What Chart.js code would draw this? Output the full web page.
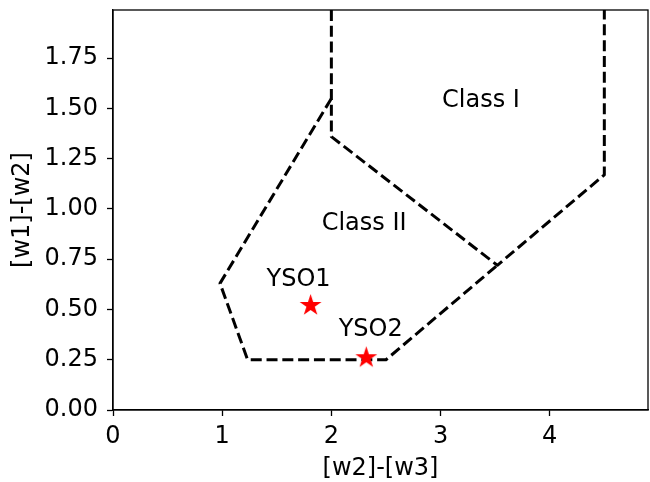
<!DOCTYPE html>
<html><head><meta charset="utf-8">
<script src="https://cdn.jsdelivr.net/npm/chart.js@4"></script>
<style>html,body{margin:0;padding:0;background:#fff}</style>
</head><body>
<canvas id="c" width="650" height="482"></canvas>
<script>
// ---- data ----
const classIBoundaryX = [2.0, 2.0, 3.52, 4.5, 4.5];
const classIBoundaryY = [1.99, 1.36, 0.72, 1.17, 1.99];
const classIIBoundaryX = [2.0, 0.98, 1.233, 2.5, 3.52];
const classIIBoundaryY = [1.55, 0.63, 0.25, 0.25, 0.72];
const ysoNames = ['YSO1', 'YSO2'];
const ysoX = [1.81, 2.32];
const ysoY = [0.52, 0.26];
const ysoLabelX = [1.70, 2.36];
const ysoLabelY = [0.66, 0.41];
const regionNames = ['Class I', 'Class II'];
const regionX = [3.37, 2.30];
const regionY = [1.55, 0.94];
const xTickValues = [0, 1, 2, 3, 4];
const yTickValues = [0, 0.25, 0.5, 0.75, 1.0, 1.25, 1.5, 1.75];
const xLimits = [0, 4.9];
const yLimits = [0, 1.99];
const xTitle = '[w2]-[w3]';
const yTitle = '[w1]-[w2]';

// ---- style ----
const FONT = 'DejaVu Sans';
const FS = 24;

function starImage(R, color) {
  const size = Math.ceil(2 * R + 2);
  const c = document.createElement('canvas');
  c.width = size; c.height = size;
  const g = c.getContext('2d');
  const cx = size / 2, cy = size / 2, r = R * 0.381966;
  g.beginPath();
  for (let i = 0; i < 10; i++) {
    const rr = i % 2 ? r : R;
    const a = -Math.PI / 2 + i * Math.PI / 5;
    g.lineTo(cx + rr * Math.cos(a), cy + rr * Math.sin(a));
  }
  g.closePath();
  g.fillStyle = color; g.fill();
  return c;
}
const star = starImage(11.5, '#ff0000');

const toPts = (xs, ys) => xs.map((v, i) => ({ x: v, y: ys[i] }));

const lineStyle = {
  showLine: true, pointRadius: 0, borderColor: '#000', borderWidth: 3,
  borderDash: [11, 4.8], borderJoinStyle: 'round', borderCapStyle: 'butt', fill: false
};

const overlay = {
  id: 'overlay',
  afterDatasetsDraw(chart) {
    const { ctx, chartArea: a, scales: { x, y } } = chart;
    ctx.save();
    ctx.strokeStyle = '#000'; ctx.lineWidth = 1.3;
    ctx.strokeRect(a.left, a.top, a.right - a.left, a.bottom - a.top);
    ctx.fillStyle = '#000';
    ctx.font = FS + 'px "' + FONT + '"';
    ctx.textAlign = 'center'; ctx.textBaseline = 'alphabetic';
    const items = [];
    regionNames.forEach((t, i) => items.push([t, regionX[i], regionY[i]]));
    ysoNames.forEach((t, i) => items.push([t, ysoLabelX[i], ysoLabelY[i]]));
    items.forEach(([t, vx, vy]) => {
      ctx.fillText(t, x.getPixelForValue(vx), y.getPixelForValue(vy) + 0.3645 * FS);
    });
    ctx.restore();
  }
};

new Chart(document.getElementById('c'), {
  type: 'scatter',
  data: {
    datasets: [
      { label: 'YSOs', data: toPts(ysoX, ysoY), pointStyle: star, pointRadius: 11,
        backgroundColor: '#ff0000', borderColor: '#ff0000', showLine: false, order: 0, clip: false },
      Object.assign({ label: 'Class I', data: toPts(classIBoundaryX, classIBoundaryY), order: 1 }, lineStyle),
      Object.assign({ label: 'Class II', data: toPts(classIIBoundaryX, classIIBoundaryY), order: 2 }, lineStyle)
    ]
  },
  options: {
    responsive: false, animation: false, devicePixelRatio: 1,
    layout: { autoPadding: false, padding: { left: 0, right: 2, top: 10, bottom: 0 } },
    plugins: { legend: { display: false }, tooltip: { enabled: false } },
    scales: {
      x: {
        type: 'linear', min: xLimits[0], max: xLimits[1],
        afterFit(s) { s.height = 72; s.paddingLeft = 0; s.paddingRight = 0; },
        afterBuildTicks(s) { s.ticks = xTickValues.map(v => ({ value: v })); },
        ticks: { color: '#000', font: { family: FONT, size: FS }, padding: 6, maxRotation: 0, autoSkip: false,
                 callback: v => String(v) },
        grid: { drawOnChartArea: false, drawTicks: true, tickLength: 6, tickColor: '#000', tickWidth: 1.3 },
        border: { display: true, color: '#000', width: 1.3 },
        title: { display: true, text: xTitle, color: '#000', font: { family: FONT, size: FS, lineHeight: 1 },
                 padding: { top: 0, bottom: 1 } }
      },
      y: {
        type: 'linear', min: yLimits[0], max: yLimits[1],
        afterFit(s) { s.width = 113; s.paddingTop = 0; s.paddingBottom = 0; },
        afterBuildTicks(s) { s.ticks = yTickValues.map(v => ({ value: v })); },
        ticks: { color: '#000', font: { family: FONT, size: FS }, padding: 9, autoSkip: false,
                 callback: v => Number(v).toFixed(2) },
        grid: { drawOnChartArea: false, drawTicks: true, tickLength: 6, tickColor: '#000', tickWidth: 1.3 },
        border: { display: true, color: '#000', width: 1.3 },
        title: { display: true, text: yTitle, color: '#000', font: { family: FONT, size: FS, lineHeight: 1 },
                 padding: { top: 11, bottom: 0 } }
      }
    }
  },
  plugins: [overlay]
});
</script>
</body></html>
